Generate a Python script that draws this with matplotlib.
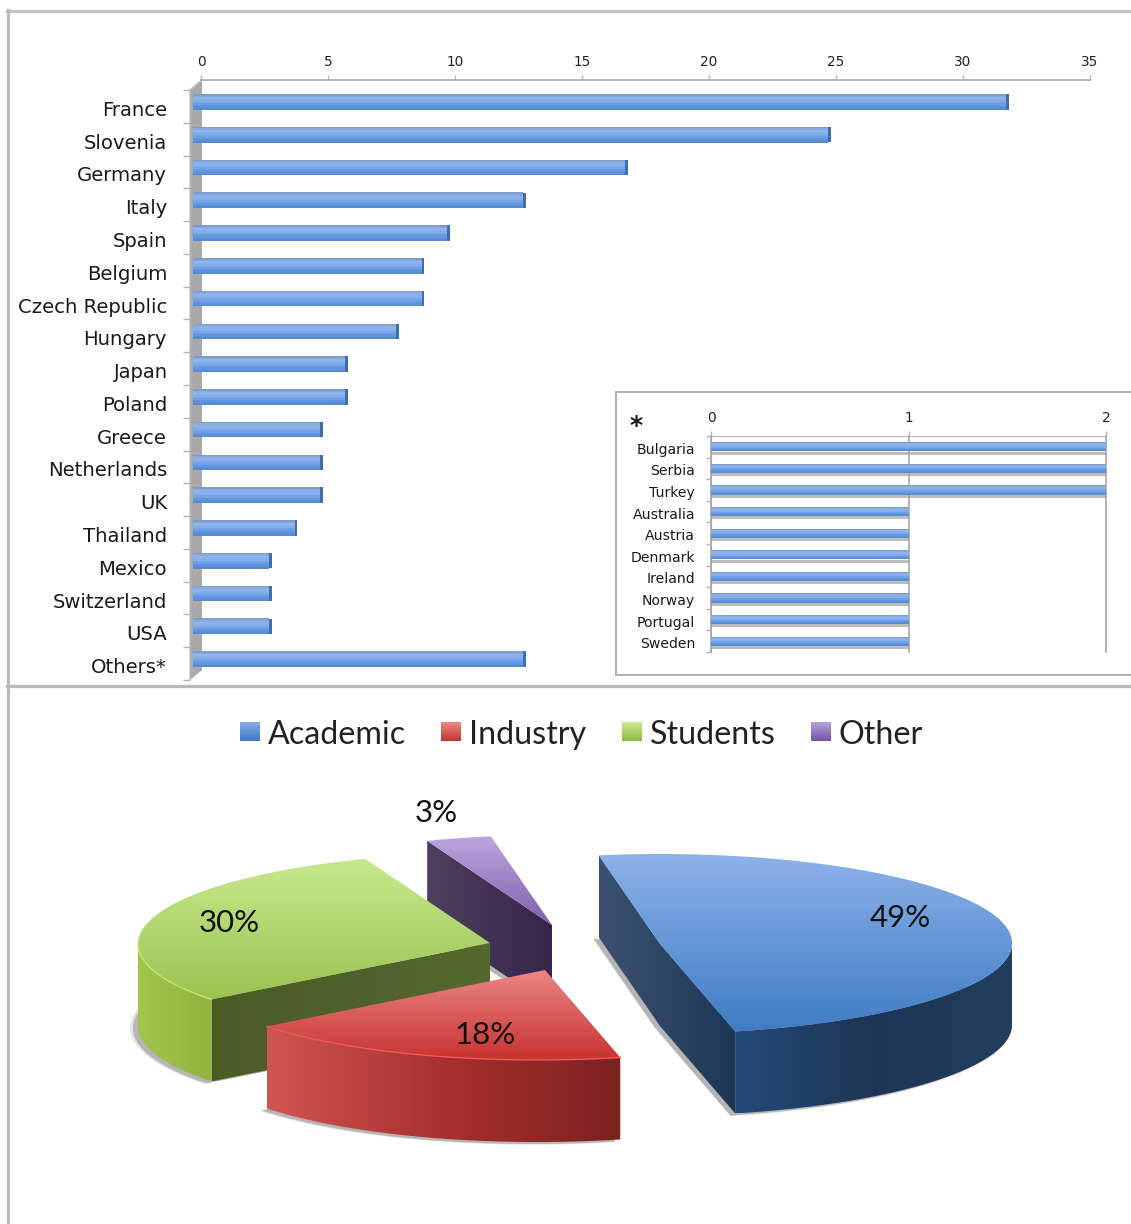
import numpy as np
import matplotlib
matplotlib.use("Agg")
import matplotlib.pyplot as plt
from matplotlib.colors import LinearSegmentedColormap
from matplotlib.patches import Polygon, Rectangle
from matplotlib.transforms import ScaledTranslation

# main bar chart
countries = ["France", "Slovenia", "Germany", "Italy", "Spain", "Belgium",
             "Czech Republic", "Hungary", "Japan", "Poland", "Greece",
             "Netherlands", "UK", "Thailand", "Mexico", "Switzerland",
             "USA", "Others*"]
counts = [32, 25, 17, 13, 10, 9, 9, 8, 6, 6, 5, 5, 5, 4, 3, 3, 3, 13]
count_ticks = [0, 5, 10, 15, 20, 25, 30, 35]

# breakdown of "Others"
other_countries = ["Bulgaria", "Serbia", "Turkey", "Australia", "Austria",
                   "Denmark", "Ireland", "Norway", "Portugal", "Sweden"]
other_counts = [2, 2, 2, 1, 1, 1, 1, 1, 1, 1]
other_ticks = [0, 1, 2]

# pie
groups = ["Academic", "Industry", "Students", "Other"]
shares = [49, 18, 30, 3]

W, H = 1131, 1224
GREY = "#b4b4b4"
BAR_COLORS = ["#7f9ccb", "#8fb6ee", "#86aeeb", "#74a3e6", "#5f95e0", "#568ad2"]

fig = plt.figure(figsize=(W / 100, H / 100), dpi=100, facecolor="white")


def axes_px(left, top, right, bottom):
    a = fig.add_axes([left / W, 1 - bottom / H, (right - left) / W, (bottom - top) / H])
    a.patch.set_alpha(0)
    return a


def gradient_poly(ax, pts, colors, vertical=True, z=3):
    pts = np.asarray(pts)
    poly = Polygon(pts, closed=True, fc="none", ec="none", zorder=z)
    ax.add_patch(poly)
    cmap = LinearSegmentedColormap.from_list("g", colors)
    g = np.linspace(0, 1, 256)
    arr = g[:, None] if vertical else g[None, :]
    x0, x1 = pts[:, 0].min(), pts[:, 0].max()
    y0, y1 = pts[:, 1].min(), pts[:, 1].max()
    im = ax.imshow(arr, cmap=cmap, vmin=0, vmax=1, aspect="auto", origin="upper",
                   extent=(x0, x1, y1, y0), zorder=z, interpolation="bilinear")
    im.set_clip_path(poly)


def shiny_bars(ax, values, bar_h, cap=None):
    cmap = LinearSegmentedColormap.from_list("bar", BAR_COLORS)
    n = 10
    strip = bar_h / n
    y = np.arange(len(values))
    for i in range(n):
        off = -bar_h / 2 + strip * (i + 0.5)
        ax.barh(y + off, values, height=strip * 1.15, color=cmap(i / (n - 1)),
                linewidth=0, zorder=3)
    if cap:
        ax.barh(y, cap, left=values, height=bar_h, color="#3f6fb0", linewidth=0, zorder=3)


def nudge_labels(ax, px):
    # push the y tick labels down by a few pixels
    shift = ScaledTranslation(0, -px / 100, fig.dpi_scale_trans)
    for lab in ax.get_yticklabels():
        lab.set_transform(lab.get_transform() + shift)


# page background, frame lines and everything drawn in pixels
bg = fig.add_axes([0, 0, 1, 1])
bg.set_xlim(0, W)
bg.set_ylim(H, 0)
bg.axis("off")
bg.plot([7, W], [11, 11], color="#c4c4c4", lw=2.4, zorder=1)
bg.plot([8, 8], [10, H], color="#b8b8b8", lw=2.2, zorder=1)
bg.plot([7, W], [686, 686], color="#b8b8b8", lw=2.4, zorder=1)
bg.add_patch(Rectangle((616, 392), 540, 283, fc="white", ec="#b0b0b0", lw=1.4, zorder=1))
bg.add_patch(Polygon([(190, 90), (202, 80), (202, 670), (190, 680)], fc="#a9a9a9", ec="none", zorder=1))
bg.plot([202, 190, 190], [80, 90, 680], color="#bdbdbd", lw=1, zorder=1)
bg.text(636, 426, "*", fontsize=18, fontweight="bold", ha="center", va="center", color="#1a1a1a")

# back wall axis carrying the value ticks
back = axes_px(201, 80, 1090, 670)
back.set_xlim(0, 35)
back.set_ylim(0, 1)
back.xaxis.tick_top()
back.set_xticks(count_ticks)
back.tick_params(axis="x", length=3.5, width=1, color=GREY, pad=4.5, labelsize=9.8, labelcolor="#222222")
back.set_yticks([])
for side in ["left", "right", "bottom"]:
    back.spines[side].set_visible(False)
back.spines["top"].set_color(GREY)
back.spines["top"].set_linewidth(1.4)

# front wall axis carrying the country names
front = axes_px(190, 90, 1082, 680)
front.set_xlim(0, 35)
front.set_ylim(len(counts) - 0.5, -0.5)
front.set_xticks([])
front.set_yticks(range(len(countries)))
front.set_yticklabels(countries, fontsize=14.1, color="#1a1a1a")
front.tick_params(axis="y", which="major", length=0, pad=16.5)
front.set_yticks(np.arange(len(counts) + 1) - 0.5, minor=True)
front.tick_params(axis="y", which="minor", length=5, width=1, color=GREY)
for s in front.spines.values():
    s.set_visible(False)
nudge_labels(front, 2)

# the bars themselves sit forward of the wall
bars = axes_px(193, 85.6, 1082, 675.4)
bars.set_xlim(0, 35)
bars.set_ylim(len(counts) - 0.5, -0.5)
bars.axis("off")
shiny_bars(bars, counts, 0.47, cap=0.11)

# inset for the "Others" group
inset = axes_px(711, 436, 1106, 652)
inset.set_xlim(0, 2)
inset.set_ylim(len(other_counts) - 0.5, -0.5)
inset.xaxis.tick_top()
inset.set_xticks(other_ticks)
inset.tick_params(axis="x", length=3.5, width=1, color=GREY, pad=4.5, labelsize=9.8, labelcolor="#222222")
inset.set_yticks(range(len(other_countries)))
inset.set_yticklabels(other_countries, fontsize=10.1, color="#1a1a1a")
inset.tick_params(axis="y", which="major", length=0, pad=11.5)
inset.set_yticks(np.arange(len(other_counts) + 1) - 0.5, minor=True)
inset.tick_params(axis="y", which="minor", length=3.5, width=1, color=GREY)
for side in ["right", "bottom"]:
    inset.spines[side].set_visible(False)
inset.spines["top"].set_color(GREY)
inset.spines["left"].set_color(GREY)
inset.grid(axis="x", color="#a0a0a0", lw=1.1, zorder=5)
for line in inset.get_xgridlines():
    line.set_clip_on(False)
inset.set_axisbelow(False)
nudge_labels(inset, 1.5)
inset.barh(np.arange(10) + 0.29, other_counts, height=0.14, color="#bcbcbc", linewidth=0, zorder=2)
shiny_bars(inset, other_counts, 0.42)

# 3d pie: every slice is an ellipse sector pulled away from the middle
RX, RY, DEPTH = 352, 90, 82
LEAN = 0.00049  # rim nearest the viewer leans left a little
centres = [(660, 944), (545, 970), (490, 943), (552, 925)]
top_cols = [["#8db2ea", "#3f7cc4"], ["#ea8583", "#c83331"],
            ["#c8e88e", "#9cc352"], ["#bba5de", "#8060ad"]]
arc_cols = [["#244a78", "#1c3556", "#243e60"], ["#cf5551", "#a8302e", "#7c2220"],
            ["#a2c64c", "#8fb43f"], ["#3a2a4e", "#3a2a4e"]]
cut_cols = [["#3c5170", "#1e3757"], ["#7c2220", "#7c2220"],
            ["#4a5c24", "#55682e"], ["#4e405e", "#35254a"]]
rims = [None, "#ee5a55", "#c6e76c", None]
draw_order = [3, 0, 2, 1]

start = 100.0
sweeps = np.array(shares) / sum(shares) * 360
starts = start - np.concatenate([[0], np.cumsum(sweeps)[:-1]])

z = 2
for i in draw_order:
    cx, cy = centres[i]
    ts = np.radians(np.linspace(starts[i], starts[i] - sweeps[i], 240))
    dy = -RY * np.sin(ts)
    rim = np.column_stack([cx + RX * np.cos(ts) - LEAN * dy * (dy + 88), cy + dy])
    top = np.vstack([[cx, cy], rim])
    mid = rim[len(rim) // 2] - [cx, cy]

    # soft shadow under the slice
    for scale, a in [(1.0, 0.32), (1.008, 0.16)]:
        shadow = (top - [cx, cy]) * scale + [cx - 5, cy + DEPTH + 2]
        bg.add_patch(Polygon(shadow, fc="#555555", ec="none", alpha=a, zorder=z))
    z += 1

    # cut faces turned towards the viewer, shaded as one surface
    chain = []
    for end, first in ((rim[0], True), (rim[-1], False)):
        d = end - [cx, cy]
        n = np.array([-d[1], d[0]])
        if n @ mid > 0:
            n = -n
        if n[1] > 0:
            chain.append((end, first))
    if chain:
        upper = [(cx, cy)]
        for end, first in chain:
            if first:
                upper.insert(0, tuple(end))
            else:
                upper.append(tuple(end))
        upper = np.array(upper)
        face = np.vstack([upper, upper[::-1] + [0, DEPTH]])
        gradient_poly(bg, face, cut_cols[i], vertical=False, z=z)
        z += 1

    # curved outer side
    front_arc = rim[np.sin(ts) < 0]
    if len(front_arc) > 1:
        side = np.vstack([front_arc, front_arc[::-1] + [0, DEPTH]])
        gradient_poly(bg, side, arc_cols[i], vertical=False, z=z)
        z += 1
        if rims[i]:
            bg.plot(front_arc[:, 0], front_arc[:, 1], color=rims[i], lw=1, zorder=z + 1)

    gradient_poly(bg, top, top_cols[i], vertical=True, z=z)
    z += 2

label_pos = [(900, 918), (485, 1035), (229, 923), (436, 813)]
for share, (x, y) in zip(shares, label_pos):
    bg.text(x, y, f"{share}%", fontsize=22.5, family="Lato", ha="center", va="center",
            color="#111111", zorder=z + 1)

# legend row
legend_x = [240, 441, 622, 811]
legend_cols = [["#85ace6", "#3f78c2"], ["#ee8a88", "#c23532"],
               ["#cdea92", "#8db83f"], ["#b9a2dc", "#7550a8"]]
for name, x, cols in zip(groups, legend_x, legend_cols):
    box = [(x, 722), (x + 20, 722), (x + 20, 741), (x, 741)]
    gradient_poly(bg, box, cols, vertical=True, z=z)
    bg.text(x + 28, 735, name, fontsize=23.2, family="Lato", ha="left", va="center",
            color="#222222", zorder=z)
bg.set_xlim(0, W)
bg.set_ylim(H, 0)

fig.savefig("out.png", dpi=100)
